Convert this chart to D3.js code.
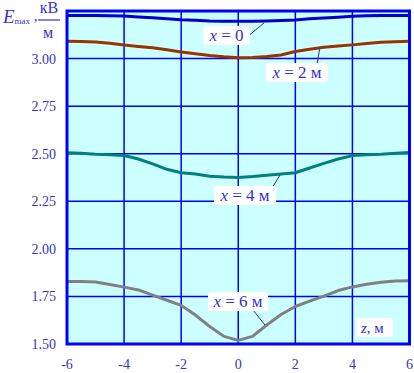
<!DOCTYPE html>
<meta charset="utf-8">
<style>
body { margin: 0; background: #fff; }
text { font-family: "Liberation Serif", "Times New Roman", serif; fill: #3333cc; }
.grid line { stroke: #0000ff; stroke-width: 1.5; }
.curve { fill: none; stroke-width: 3; stroke-linejoin: round; }
</style>
<svg width="414" height="373"></svg>
<script src="https://d3js.org/d3.v7.min.js"></script>
<script>

var zValues = [-6, -5.5, -5, -4.5, -4, -3.5, -3, -2.5, -2, -1.5, -1, -0.5, 0, 0.5, 1, 1.5, 2, 2.5, 3, 3.5, 4, 4.5, 5, 5.5, 6];

// E_max, kV/m for each height x
var ex0 = [3.226, 3.226, 3.226, 3.225, 3.224, 3.219, 3.215, 3.209, 3.204, 3.201, 3.197, 3.196, 3.196, 3.196, 3.198, 3.200, 3.203, 3.209, 3.213, 3.217, 3.222, 3.225, 3.226, 3.226, 3.226];
var ex2 = [3.091, 3.090, 3.087, 3.080, 3.071, 3.064, 3.057, 3.046, 3.034, 3.025, 3.016, 3.009, 3.004, 3.006, 3.011, 3.019, 3.037, 3.049, 3.059, 3.066, 3.072, 3.079, 3.086, 3.089, 3.091];
var ex4 = [2.505, 2.503, 2.497, 2.494, 2.491, 2.472, 2.447, 2.418, 2.400, 2.393, 2.382, 2.377, 2.375, 2.380, 2.387, 2.393, 2.400, 2.425, 2.449, 2.472, 2.490, 2.494, 2.497, 2.502, 2.506];
var ex6 = [1.829, 1.829, 1.826, 1.813, 1.799, 1.784, 1.757, 1.730, 1.703, 1.652, 1.592, 1.540, 1.519, 1.540, 1.600, 1.655, 1.697, 1.725, 1.752, 1.781, 1.800, 1.814, 1.825, 1.831, 1.832];

var xTicks = [-6, -4, -2, 0, 2, 4, 6];
var yTicks = [1.50, 1.75, 2.00, 2.25, 2.50, 2.75, 3.00];

var svg = d3.select("svg");

var x = d3.scaleLinear().domain([-6, 6]).range([67, 409.5]);
var y = d3.scaleLinear().domain([1.5, 3.25]).range([344, 11]);

svg.append("rect")
    .attr("x", x(-6)).attr("y", y(3.25))
    .attr("width", x(6) - x(-6)).attr("height", y(1.5) - y(3.25))
    .attr("fill", "#ccffff");

var grid = svg.append("g").attr("class", "grid");
grid.selectAll(".v").data(xTicks.slice(1, -1)).enter().append("line")
    .attr("x1", x).attr("x2", x)
    .attr("y1", y(3.25)).attr("y2", y(1.5));
grid.selectAll(".h").data(yTicks.slice(1)).enter().append("line")
    .attr("x1", x(-6)).attr("x2", x(6))
    .attr("y1", y).attr("y2", y);

var series = [
  {vals: ex0, color: "#0000cc", w: 2.5},
  {vals: ex2, color: "#993300", w: 3},
  {vals: ex4, color: "#008080", w: 3},
  {vals: ex6, color: "#808080", w: 3}
];

var line = d3.line()
    .x(function(d, i) { return x(zValues[i]); })
    .y(function(d) { return y(d); });

svg.selectAll(".curve").data(series).enter().append("path")
    .attr("class", "curve")
    .attr("stroke", function(d) { return d.color; })
    .attr("stroke-width", function(d) { return d.w; })
    .attr("d", function(d) { return line(d.vals); });

// frame
svg.append("rect")
    .attr("x", x(-6)).attr("y", y(3.25))
    .attr("width", x(6) - x(-6)).attr("height", y(1.5) - y(3.25))
    .attr("fill", "none").attr("stroke", "#0000ff").attr("stroke-width", 3);

// tick labels
svg.selectAll(".yt").data(yTicks).enter().append("text")
    .attr("x", 56).attr("y", function(d) { return y(d) + 5; })
    .attr("text-anchor", "end").attr("font-size", 14)
    .text(function(d) { return d.toFixed(2); });

svg.selectAll(".xt").data(xTicks).enter().append("text")
    .attr("x", function(d) { return x(d); }).attr("y", 369)
    .attr("text-anchor", "middle").attr("font-size", 14)
    .text(function(d) { return d; });

// curve labels with leaders
var labels = [
  {t: "0", unit: "", bx: 203, by: 26, bw: 47, lx1: 247, ly1: 37, lx2: 264, ly2: 23},
  {t: "2", unit: " м", bx: 266, by: 63, bw: 62, lx1: 317, ly1: 64, lx2: 320, ly2: 47},
  {t: "4", unit: " м", bx: 214, by: 186, bw: 62, lx1: 272, ly1: 188, lx2: 280, ly2: 175},
  {t: "6", unit: " м", bx: 208, by: 292, bw: 60, lx1: 253, ly1: 310, lx2: 265, ly2: 325}
];

labels.forEach(function(l) {
  svg.append("line")
      .attr("x1", l.lx1).attr("y1", l.ly1).attr("x2", l.lx2).attr("y2", l.ly2)
      .attr("stroke", "#333366").attr("stroke-width", 1);
  svg.append("rect")
      .attr("x", l.bx).attr("y", l.by).attr("width", l.bw).attr("height", 19)
      .attr("rx", 3).attr("fill", "#fff");
  var t = svg.append("text")
      .attr("x", l.bx + l.bw / 2).attr("y", l.by + 15)
      .attr("text-anchor", "middle").attr("font-size", 17);
  t.append("tspan").attr("font-style", "italic").text("x");
  t.append("tspan").text(" = " + l.t + l.unit);
});

// z axis label
svg.append("rect")
    .attr("x", 356).attr("y", 318).attr("width", 37).attr("height", 19)
    .attr("rx", 3).attr("fill", "#fff");
var zl = svg.append("text").attr("x", 361).attr("y", 333).attr("font-size", 15);
zl.append("tspan").attr("font-style", "italic").text("z");
zl.append("tspan").text(", м");

// y axis title
var yl = svg.append("text").attr("x", 3).attr("y", 23).attr("font-size", 19);
yl.append("tspan").attr("font-style", "italic").text("E");
yl.append("tspan").attr("font-size", 9).attr("dy", 1).text("max");
yl.append("tspan").attr("font-size", 15).attr("dy", -3).text(" ,");
svg.append("text").attr("x", 49).attr("y", 13).attr("text-anchor", "middle")
    .attr("font-size", 16).text("кВ");
svg.append("line").attr("x1", 38).attr("x2", 60).attr("y1", 20).attr("y2", 20)
    .attr("stroke", "#3333cc").attr("stroke-width", 1.2);
svg.append("text").attr("x", 48).attr("y", 38).attr("text-anchor", "middle")
    .attr("font-size", 16).text("м");

</script>
